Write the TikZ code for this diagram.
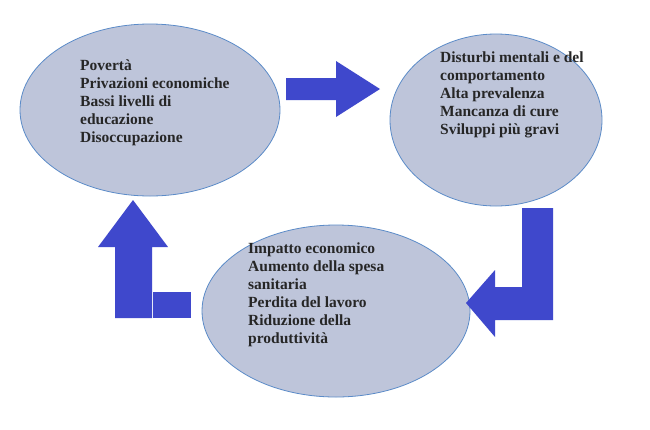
\documentclass[tikz,border=0pt]{standalone}
\usepackage{fontspec}
\setmainfont{Liberation Serif}
\begin{document}
\begin{tikzpicture}[x=1pt,y=-1pt,
  ell/.style={draw=ebd,fill=efill,line width=0.8pt},
  arr/.style={fill=ablue,draw=none},
  txt/.style={anchor=north west,align=left,font=\fontsize{15.5}{18}\selectfont\bfseries,text=black!85}]
\definecolor{ebd}{HTML}{5B8BC8}
\definecolor{efill}{HTML}{BEC5DA}
\definecolor{ablue}{HTML}{3F48CC}
\useasboundingbox (0,0) rectangle (650,429);
\fill[white] (0,0) rectangle (650,429);
\draw[ell] (150,110) ellipse [x radius=130,y radius=86];
\draw[ell] (496,120) ellipse [x radius=106,y radius=86];
\draw[ell] (336,311) ellipse [x radius=134,y radius=86];
\node[txt,inner sep=0pt] (t1) at (80,60) {Povertà\\Privazioni economiche\\Bassi livelli di\\educazione\\Disoccupazione};
\node[txt,inner sep=0pt] (t2) at (440,52) {Disturbi mentali e del\\comportamento\\Alta prevalenza\\Mancanza di cure\\Sviluppi più gravi};
\node[txt,inner sep=0pt] (t3) at (248,243) {Impatto economico\\Aumento della spesa\\sanitaria\\Perdita del lavoro\\Riduzione della\\produttività};
\fill[arr] (286,78) -- (336,78) -- (336,61) -- (380,89) -- (336,117) -- (336,100) -- (286,100) -- cycle;
\fill[arr] (522,208) -- (553,208) -- (553,320) -- (495,320) -- (495,337) -- (466,303) -- (495,270) -- (495,287) -- (522,287) -- cycle;
\fill[arr] (115,318) -- (115,247) -- (98,247) -- (133,200) -- (168,247) -- (152,247) -- (152,318) -- cycle;
\fill[arr] (153,292) rectangle (191,318);
\end{tikzpicture}
\end{document}
